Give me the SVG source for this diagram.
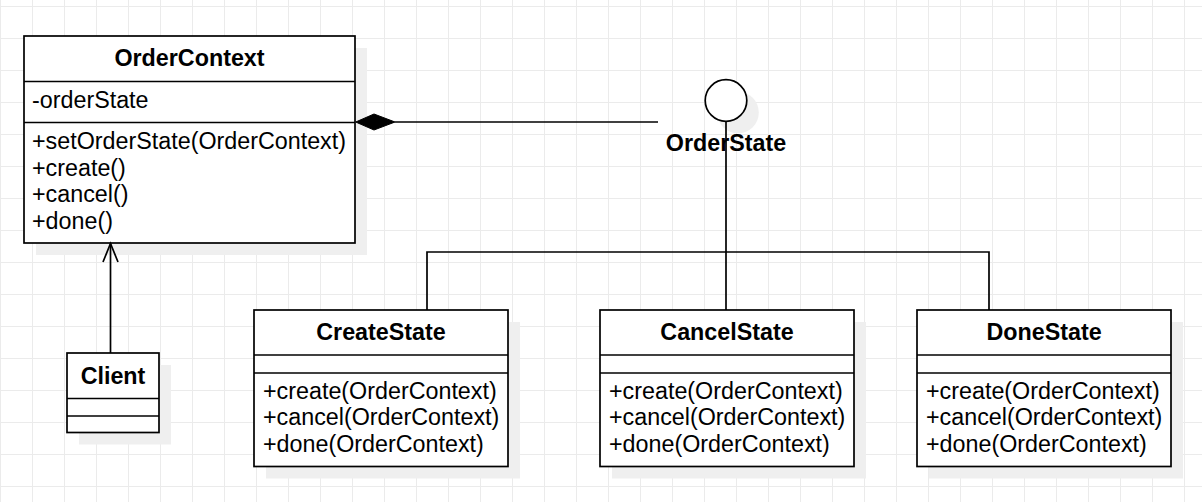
<svg xmlns="http://www.w3.org/2000/svg" width="1202" height="502" viewBox="0 0 1202 502">
  <defs>
    <pattern id="grid" width="32" height="32" patternUnits="userSpaceOnUse" x="0" y="6">
      <path d="M0.5 0 V32 M0 0.5 H32" stroke="#ebebeb" stroke-width="1" fill="none"/>
    </pattern>
    <style>
      .box { fill: #ffffff; stroke: #000000; stroke-width: 1.7; }
      .shadow { fill: #efefef; stroke: none; }
      .div { stroke: #000000; stroke-width: 1.7; }
      .edge { stroke: #000000; stroke-width: 1.7; fill: none; }
      .t { font-family: "Liberation Sans", Arial, sans-serif; font-size: 23.3px; fill: #000000; }
      .title { font-weight: bold; text-anchor: middle; }
    </style>
  </defs>
  <rect width="1202" height="502" fill="#ffffff"/>
  <rect width="1202" height="502" fill="url(#grid)"/>

  <!-- shadows -->
  <g id="shadows">
    <rect class="shadow" x="36" y="48" width="331" height="207"/>
    <rect class="shadow" x="79" y="365" width="92" height="79.5"/>
    <rect class="shadow" x="266" y="322" width="254" height="156.5"/>
    <rect class="shadow" x="612" y="322" width="254" height="156.5"/>
    <rect class="shadow" x="929" y="322" width="254" height="156.5"/>
    <circle class="shadow" cx="738" cy="112.5" r="20.8"/>
  </g>

  <g id="OrderContext">
    <rect class="box" x="24" y="36" width="331" height="207"/>
    <line class="div" x1="24" y1="81.5" x2="355" y2="81.5"/>
    <line class="div" x1="24" y1="122.5" x2="355" y2="122.5"/>
    <text class="t title" x="189.5" y="66">OrderContext</text>
    <text class="t" x="32" y="108">-orderState</text>
    <text class="t" x="32" y="149">+setOrderState(OrderContext)</text>
    <text class="t" x="32" y="175.7">+create()</text>
    <text class="t" x="32" y="202.3">+cancel()</text>
    <text class="t" x="32" y="229">+done()</text>
  </g>

  <g id="Client">
    <rect class="box" x="67" y="353" width="92" height="79.5"/>
    <line class="div" x1="67" y1="398.5" x2="159" y2="398.5"/>
    <line class="div" x1="67" y1="416" x2="159" y2="416"/>
    <text class="t title" x="113" y="384">Client</text>
  </g>

  <g id="OrderState">
    <circle cx="726" cy="100.5" r="20.8" fill="#ffffff" stroke="#000000" stroke-width="1.7"/>
    <text class="t title" x="726" y="151">OrderState</text>
  </g>

  <g id="CreateState">
    <rect class="box" x="254" y="310" width="254" height="156.5"/>
    <line class="div" x1="254" y1="355" x2="508" y2="355"/>
    <line class="div" x1="254" y1="373" x2="508" y2="373"/>
    <text class="t title" x="381" y="340.3">CreateState</text>
    <text class="t" x="263" y="398.7">+create(OrderContext)</text>
    <text class="t" x="263" y="425.4">+cancel(OrderContext)</text>
    <text class="t" x="263" y="452.1">+done(OrderContext)</text>
  </g>

  <g id="CancelState">
    <rect class="box" x="600" y="310" width="254" height="156.5"/>
    <line class="div" x1="600" y1="355" x2="854" y2="355"/>
    <line class="div" x1="600" y1="373" x2="854" y2="373"/>
    <text class="t title" x="727" y="340.3">CancelState</text>
    <text class="t" x="609" y="398.7">+create(OrderContext)</text>
    <text class="t" x="609" y="425.4">+cancel(OrderContext)</text>
    <text class="t" x="609" y="452.1">+done(OrderContext)</text>
  </g>

  <g id="DoneState">
    <rect class="box" x="917" y="310" width="254" height="156.5"/>
    <line class="div" x1="917" y1="355" x2="1171" y2="355"/>
    <line class="div" x1="917" y1="373" x2="1171" y2="373"/>
    <text class="t title" x="1044" y="340.3">DoneState</text>
    <text class="t" x="926" y="398.7">+create(OrderContext)</text>
    <text class="t" x="926" y="425.4">+cancel(OrderContext)</text>
    <text class="t" x="926" y="452.1">+done(OrderContext)</text>
  </g>

  <g id="connectors">
    <!-- composition OrderContext - OrderState -->
    <line class="edge" x1="395" y1="122" x2="658" y2="122"/>
    <polygon points="355.7,122 374,114 395,122 374,130" fill="#000000" stroke="#000000" stroke-width="1"/>
    <!-- Client -> OrderContext -->
    <line class="edge" x1="110.5" y1="353" x2="110.5" y2="243.5"/>
    <polyline class="edge" points="103,262 110.5,243.5 118,262"/>
    <!-- interface realization tree -->
    <line class="edge" x1="726" y1="121.3" x2="726" y2="310"/>
    <polyline class="edge" points="427,310 427,252 989,252 989,310"/>
  </g>
</svg>
